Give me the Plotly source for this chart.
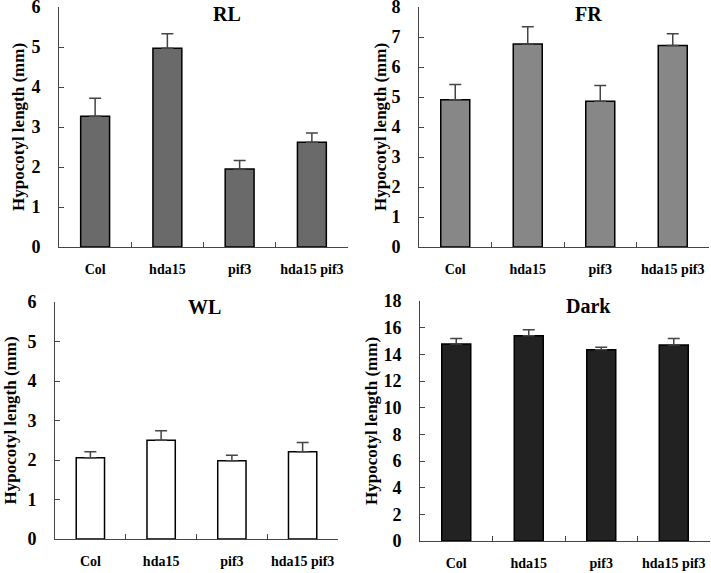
import plotly.graph_objects as go

categories = ["Col", "hda15", "pif3", "hda15 pif3"]

rl_values = [3.27, 4.97, 1.95, 2.62]
rl_errors = [0.45, 0.36, 0.21, 0.23]

fr_values = [4.91, 6.77, 4.86, 6.72]
fr_errors = [0.51, 0.57, 0.52, 0.39]

wl_values = [2.06, 2.50, 1.98, 2.21]
wl_errors = [0.15, 0.24, 0.14, 0.23]

dark_values = [14.78, 15.40, 14.35, 14.70]
dark_errors = [0.40, 0.45, 0.18, 0.48]

panels = [
    dict(name="RL", values=rl_values, errors=rl_errors, color="#6a6a6a", ymax=6, dtick=1,
         xdom=[59, 348], ydom=[7, 247], title_xy=(227, 14), ytitle_x=18),
    dict(name="FR", values=fr_values, errors=fr_errors, color="#878787", ymax=8, dtick=1,
         xdom=[419, 709], ydom=[7, 247], title_xy=(588, 14), ytitle_x=380),
    dict(name="WL", values=wl_values, errors=wl_errors, color="#ffffff", ymax=6, dtick=1,
         xdom=[55, 338], ydom=[302, 539], title_xy=(204, 307), ytitle_x=10),
    dict(name="Dark", values=dark_values, errors=dark_errors, color="#222222", ymax=18, dtick=2,
         xdom=[420, 710], ydom=[301, 541], title_xy=(588, 306), ytitle_x=371),
]

W, H = 711, 573
FONT = "Liberation Serif"
fig = go.Figure()
annotations = []
layout_axes = {}

for i, p in enumerate(panels, start=1):
    xa = "x" if i == 1 else f"x{i}"
    ya = "y" if i == 1 else f"y{i}"
    fig.add_trace(go.Bar(
        x=categories, y=p["values"], xaxis=xa, yaxis=ya,
        width=0.4,
        marker=dict(color=p["color"], line=dict(color="#000000", width=1.5)),
        error_y=dict(type="data", array=p["errors"], arrayminus=[0] * 4, symmetric=False,
                     color="#444444", thickness=1.5, width=6),
        showlegend=False,
    ))
    xdom = [p["xdom"][0] / W, p["xdom"][1] / W]
    ydom = [1 - p["ydom"][1] / H, 1 - p["ydom"][0] / H]
    layout_axes["xaxis" if i == 1 else f"xaxis{i}"] = dict(
        domain=xdom, anchor=ya, type="category", range=[-0.5, 3.5],
        showline=True, linecolor="#444444", linewidth=1,
        ticks="inside", tickson="boundaries", ticklen=5, tickcolor="#444444",
        showgrid=False, zeroline=False, tickangle=0, automargin=False,
        ticklabeloverflow="allow",
        tickfont=dict(family=FONT, size=14, color="#000000", weight="bold"),
        ticklabelstandoff=9,
    )
    layout_axes["yaxis" if i == 1 else f"yaxis{i}"] = dict(
        domain=ydom, anchor=xa, range=[0, p["ymax"]], dtick=p["dtick"], tick0=0,
        showline=True, linecolor="#444444", linewidth=1,
        ticks="inside", ticklen=5, tickcolor="#444444",
        showgrid=False, zeroline=False, automargin=False,
        ticklabeloverflow="allow",
        tickfont=dict(family=FONT, size=18, color="#000000", weight="bold"),
        ticklabelstandoff=14,
    )
    tx, ty = p["title_xy"]
    annotations.append(dict(
        text=p["name"], x=tx / W, y=1 - ty / H, xref="paper", yref="paper",
        xanchor="center", yanchor="middle", showarrow=False,
        font=dict(family=FONT, size=20, color="#000000", weight="bold"),
    ))
    annotations.append(dict(
        text="Hypocotyl length (mm)", x=p["ytitle_x"] / W,
        y=(ydom[0] + ydom[1]) / 2, xref="paper", yref="paper",
        xanchor="center", yanchor="middle", textangle=-90, showarrow=False,
        font=dict(family=FONT, size=17, color="#000000", weight="bold"),
    ))

fig.update_layout(
    width=W, height=H,
    margin=dict(l=0, r=0, t=0, b=0, autoexpand=False),
    paper_bgcolor="#ffffff", plot_bgcolor="#ffffff",
    annotations=annotations,
    **layout_axes,
)

fig.write_html(
    "out.html",
    config={"displayModeBar": False},
    post_script="document.body.style.margin='0';document.body.style.overflow='hidden';",
)
